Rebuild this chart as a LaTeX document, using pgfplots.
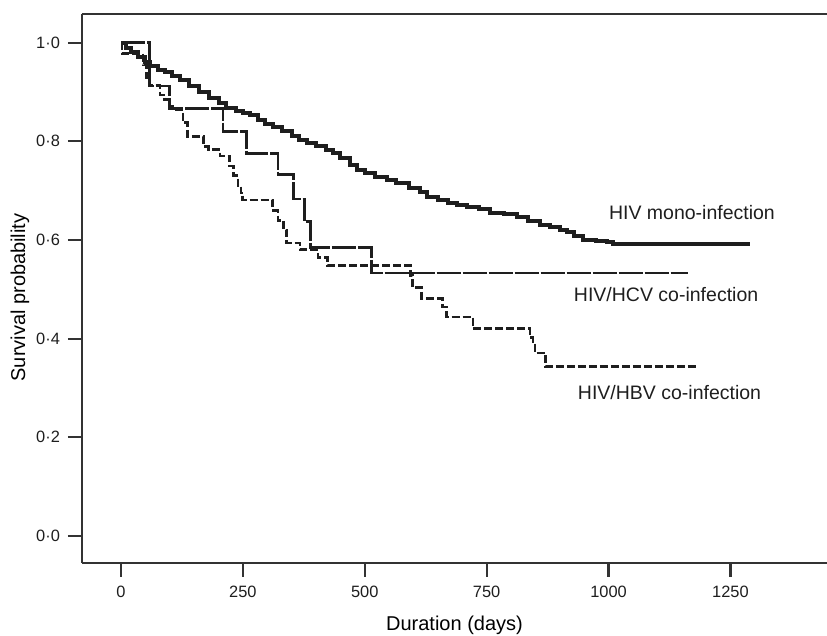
\documentclass[border=0pt]{standalone}
\usepackage{pgfplots}
\pgfplotsset{compat=1.18}
\usepackage{fontspec}
\setmainfont{Liberation Sans}
\definecolor{ink}{HTML}{1E1E1E}
\definecolor{frame}{HTML}{333333}
\begin{document}
\begin{tikzpicture}
\begin{axis}[
  scale only axis,
  width=372.5pt, height=274.5pt,
  xmin=-80, xmax=1448, ymin=-0.0547, ymax=1.058,
  axis x line*=box, axis y line*=left,
  axis line style={frame, line width=1.1pt},
  xtick={0,250,500,750,1000,1250},
  xticklabels={0,250,500,750,1000,1250},
  ytick={0,0.2,0.4,0.6,0.8,1.0},
  yticklabels={0·0,0·2,0·4,0·6,0·8,1·0},
  xtick pos=bottom, ytick pos=left,
  tick align=outside,
  major tick length=7pt,
  tick style={frame, line width=1.1pt},
  tick label style={font=\fontsize{8.2}{9}\selectfont, text=ink},
  xticklabel style={yshift=-1pt},
  yticklabel style={xshift=-0.5pt},
  xlabel={Duration (days)},
  ylabel={Survival probability},
  label style={font=\fontsize{9.3}{11}\selectfont, text=ink},
  every axis x label/.style={at={(axis description cs:0.5,0)}, anchor=center, yshift=-31pt},
  every axis y label/.style={at={(axis description cs:0,0.5)}, anchor=center, rotate=90, xshift=-4.5pt, yshift=31pt},
  clip=false,
]
% HIV mono-infection
\addplot[const plot, ink, line width=2pt] coordinates {
(0,1.0) (10,0.99) (20,0.98) (35,0.97) (50,0.96) (59,0.953) (75,0.945) (90,0.94)
(105,0.932) (121,0.924) (140,0.912) (160,0.9) (180,0.888) (200,0.878) (215,0.868)
(235,0.862) (250,0.857) (264,0.853) (280,0.843) (295,0.835) (312,0.829) (330,0.82)
(350,0.81) (365,0.803) (381,0.797) (400,0.79) (420,0.782) (435,0.776) (450,0.766)
(470,0.752) (484,0.742) (500,0.735) (520,0.728) (545,0.722) (565,0.715) (590,0.705)
(613,0.697) (627,0.687) (650,0.68) (670,0.675) (689,0.671) (710,0.667) (735,0.662)
(757,0.655) (785,0.652) (812,0.647) (835,0.638) (859,0.63) (880,0.626) (900,0.62)
(914,0.616) (930,0.608) (948,0.6) (975,0.598) (996,0.596) (1009,0.592) (1290,0.592)
};
% HIV/HCV co-infection
\addplot[const plot, ink, line width=1.4pt, dash pattern=on 12pt off 1pt] coordinates {
(0,1.0) (59,0.912) (100,0.867) (209,0.82) (258,0.776) (322,0.732) (353,0.683)
(377,0.637) (389,0.584) (514,0.533) (1163,0.533)
};
% HIV/HBV co-infection
\addplot[const plot, ink, line width=1.4pt, dash pattern=on 4pt off 1.5pt] coordinates {
(0,1.0) (2,0.978) (45,0.955) (52,0.93) (59,0.914) (80,0.894) (90,0.884) (100,0.87)
(105,0.864) (127,0.838) (137,0.809) (170,0.79) (180,0.783) (203,0.77) (222,0.75)
(230,0.73) (240,0.71) (246,0.695) (250,0.681) (310,0.66) (322,0.64) (333,0.62)
(340,0.594) (367,0.58) (404,0.565) (424,0.549) (593,0.528) (598,0.503) (617,0.482)
(660,0.464) (668,0.444) (722,0.421) (839,0.403) (845,0.39) (849,0.371) (870,0.343)
(1181,0.343)
};
\node[font=\fontsize{9.75}{11}\selectfont, text=ink] at (axis cs:1171,0.655) {HIV mono-infection};
\node[font=\fontsize{9.75}{11}\selectfont, text=ink] at (axis cs:1118,0.489) {HIV/HCV co-infection};
\node[font=\fontsize{9.75}{11}\selectfont, text=ink] at (axis cs:1125,0.290) {HIV/HBV co-infection};
\coordinate (ll) at (rel axis cs:0,0);
\coordinate (ur) at (rel axis cs:1,1);
\end{axis}
\pgfresetboundingbox
\path ([xshift=-41pt,yshift=-36.5pt]ll) rectangle ([yshift=7pt]ur);
\end{tikzpicture}
\end{document}
